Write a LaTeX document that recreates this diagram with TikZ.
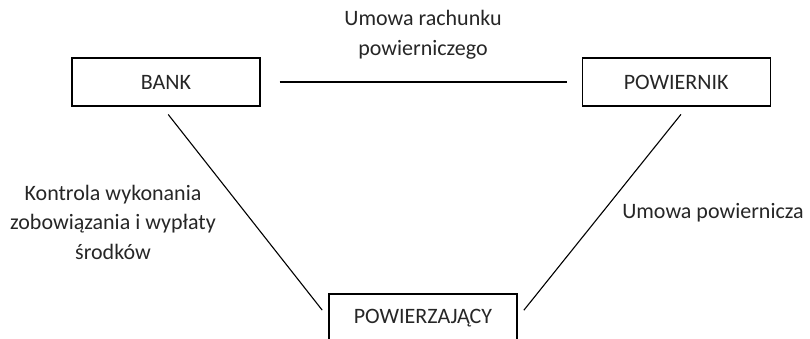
\documentclass[tikz,border=0pt]{standalone}
\usepackage{fontspec}
\setmainfont{Carlito}
\usetikzlibrary{positioning}

\begin{document}
\begin{tikzpicture}[x=1pt,y=-1pt,
      party/.style = {draw, line width=1.2pt, minimum width=188pt,
         minimum height=48pt, inner sep=0pt, text=black!85,
         font=\fontsize{22}{29.5}\selectfont},
      relation/.style = {line width=1.1pt},
      caption/.style = {align=center, inner sep=0pt, text=black!85,
         font=\fontsize{22}{29.5}\selectfont}
]
   \useasboundingbox (0,0) rectangle (810,339);
   \clip (0,0) rectangle (810,339);

   % parties
   \node[party]                     (bank)         at (166,82)  {BANK};
   \node[party, right=321pt of bank] (powiernik)                {POWIERNIK};
   \node[party]                     (powierzajacy) at (423,318) {POWIERZAJĄCY};

   % relations
   \draw[relation, shorten <=19pt, shorten >=15pt] (bank.east) -- (powiernik.west);
   \draw[relation, shorten <=10pt, shorten >=10pt]
      ([xshift=-4pt]bank.south) -- (powierzajacy.west);
   \draw[relation, shorten <=10pt, shorten >=10pt]
      ([xshift=11pt]powiernik.south) -- (powierzajacy.east);

   % labels
   \node[caption] (rachunek)    at (423,35)  {Umowa rachunku\\powierniczego};
   \node[caption] (kontrola)    at (113,222) {Kontrola wykonania\\zobowiązania i wypłaty\\środków};
   \node[caption] (powiernicza) at (713,213) {Umowa powiernicza};
\end{tikzpicture}
\end{document}
